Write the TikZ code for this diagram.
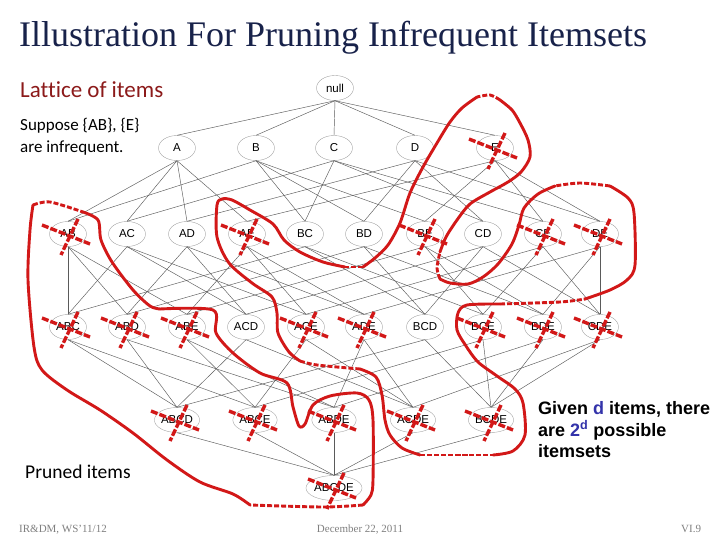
\documentclass[tikz,border=0pt]{standalone}
\usepackage{fontspec}
\setmainfont{Liberation Serif}
\newfontfamily\carl[Ligatures=NoCommon]{Carlito}
\newfontfamily\arialf{Liberation Sans}
\usetikzlibrary{shapes.geometric}
\definecolor{navy}{RGB}{24,34,74}
\definecolor{dred}{RGB}{140,26,26}
\definecolor{pred}{RGB}{210,24,24}
\definecolor{dblue}{RGB}{51,51,170}
\definecolor{edgeg}{RGB}{90,90,90}
\definecolor{foot}{RGB}{128,128,128}
\begin{document}
\begin{tikzpicture}[x=1pt,y=-1pt,
 lat/.style={ellipse, draw=gray!70, line width=0.4pt, minimum width=37pt, minimum height=25pt, inner sep=0pt, font=\arialf\fontsize{11.5}{11.5}\selectfont},
 edg/.style={draw=edgeg, line width=0.45pt},
 crossl/.style={draw=pred, line width=3.4pt, dash pattern=on 7pt off 2pt},
 outl/.style={draw=pred, line width=2.9pt, line cap=round, line join=round},
 outd/.style={draw=pred, line width=2.9pt, dash pattern=on 5pt off 2pt},
 txt/.style={anchor=base west, inner sep=0pt},
]
\useasboundingbox (0,0) rectangle (720,540);
\fill[white] (0,0) rectangle (720,540);

% lattice nodes
\foreach \n/\x/\y in {null/335/88,
  A/177/148, B/256/148, C/334/148, D/415/148, E/495/148,
  AB/68/234, AC/127/234, AD/187/234, AE/247/234, BC/305/234, BD/364/234, BE/425/234, CD/483/234, CE/543/234, DE/600/234,
  ABC/68/327, ABD/127/327, ABE/187/327, ACD/246/327, ACE/306/327, ADE/364/327, BCD/425/327, BCE/483/327, BDE/543/327, CDE/600/327,
  ABCD/177/420, ABCE/255/420, ABDE/334/420, ACDE/413/420, BCDE/491/420,
  ABCDE/334/488}
  \node[lat] (\n) at (\x,\y) {\n};

% lattice edges
\foreach \p/\cs in {null/{A,B,C,D,E},
  A/{AB,AC,AD,AE}, B/{AB,BC,BD,BE}, C/{AC,BC,CD,CE}, D/{AD,BD,CD,DE}, E/{AE,BE,CE,DE},
  AB/{ABC,ABD,ABE}, AC/{ABC,ACD,ACE}, AD/{ABD,ACD,ADE}, AE/{ABE,ACE,ADE}, BC/{ABC,BCD,BCE},
  BD/{ABD,BCD,BDE}, BE/{ABE,BCE,BDE}, CD/{ACD,BCD,CDE}, CE/{ACE,BCE,CDE}, DE/{ADE,BDE,CDE},
  ABC/{ABCD,ABCE}, ABD/{ABCD,ABDE}, ABE/{ABCE,ABDE}, ACD/{ABCD,ACDE}, ACE/{ABCE,ACDE},
  ADE/{ABDE,ACDE}, BCD/{ABCD,BCDE}, BCE/{ABCE,BCDE}, BDE/{ABDE,BCDE}, CDE/{ACDE,BCDE},
  ABCD/{ABCDE}, ABCE/{ABCDE}, ABDE/{ABCDE}, ACDE/{ABCDE}, BCDE/{ABCDE}}
  \foreach \c in \cs
    \draw[edg] (\p.south) -- (\c.north);

% outline 1 (left)
\draw[outd] plot[smooth] coordinates {(33,205) (50,202) (83,212)};
\draw[outl] plot[smooth] coordinates {(83,212) (98,220) (101,240) (112,262) (133,290) (150,306) (160,309)};
\draw[outl] plot[smooth] coordinates {(160,309) (213,310) (216,333) (233,353) (260,373) (287,383) (293,407) (299,426) (305,424) (313,405) (330,396) (357,393) (369,400) (373,420) (373,480) (371,495) (363,505)};
\draw[outd] plot[smooth] coordinates {(363,505) (323,507) (250,505)};
\draw[outl] plot[smooth] coordinates {(250,505) (233,494) (200,482) (167,460) (133,433) (100,410) (67,390) (42,370) (34,347) (28,280) (30,230) (33,205)};

% outline 2 (right)
\draw[outd] plot[smooth] coordinates {(420,455) (493,455)};
\draw[outl] plot[smooth] coordinates {(493,455) (513,451) (525,435) (523,403) (515,389) (497,376) (478,362) (466,346) (457,330) (458,313) (467,305) (500,304)};
\draw[outd] plot[smooth] coordinates {(500,304) (560,302) (585,299)};
\draw[outl] plot[smooth] coordinates {(585,299) (610,290) (627,280) (635,265) (634,213) (628,198) (610,186)};
\draw[outd] plot[smooth] coordinates {(610,186) (580,183) (555,186)};
\draw[outl] plot[smooth] coordinates {(555,186) (538,194) (524,208) (519,225) (512,244) (498,264) (483,277) (468,284) (450,283) (440,279)};
\draw[outd] plot[smooth] coordinates {(440,279) (437,268) (440,252)};
\draw[outl] plot[smooth] coordinates {(440,252) (446,237) (457,220) (470,204) (490,192) (508,182) (521,172) (530,157) (528,140) (520,123) (512,110) (500,100)};
\draw[outd] plot[smooth] coordinates {(500,100) (490,95) (477,97)};
\draw[outl] plot[smooth] coordinates {(477,97) (462,108) (450,122) (437,143) (423,167) (410,193) (400,223) (388,245) (375,258) (363,267)};
\draw[outd] plot[smooth] coordinates {(363,267) (345,267)};
\draw[outl] plot[smooth] coordinates {(345,267) (323,262) (300,252) (284,240) (273,224) (250,210) (232,200) (222,199) (217,205) (217,237) (229,263) (252,283) (272,297) (277,313) (278,333) (289,352) (300,361)};
\draw[outd] plot[smooth] coordinates {(300,361) (317,365) (360,369)};
\draw[outl] plot[smooth] coordinates {(360,369) (376,377) (382,395) (385,420) (390,435) (402,448) (420,455)};

% crosses on pruned itemsets
\foreach \n in {E,AB,AE,BE,CE,DE,ABC,ABD,ABE,ACE,ADE,BCE,BDE,CDE,ABCD,ABCE,ABDE,ACDE,BCDE,ABCDE} {
  \draw[crossl] (\n.center) ++(-26,-9) -- ++(48,19);
  \draw[crossl] (\n.center) ++(10,-15) -- ++(-17,36);
}

% texts
\node[txt, font=\fontsize{36}{36}\selectfont, text=navy] (title) at (19,47) {Illustration For Pruning Infrequent Itemsets};
\node[txt, font=\carl\fontsize{23}{23}\selectfont, text=dred] (lattice) at (20,98) {Lattice of items};
\node[txt, font=\carl\fontsize{17}{17}\selectfont] (sup1) at (20,131) {Suppose \{AB\}, \{E\}};
\node[txt, font=\carl\fontsize{17}{17}\selectfont] (sup2) at (20,153) {are infrequent.};
\node[txt, font=\carl\fontsize{19.5}{19.5}\selectfont] (pruned) at (25,478) {Pruned items};
\node[txt, font=\arialf\bfseries\fontsize{18}{18}\selectfont] (g1) at (538,414) {Given \textcolor{dblue}{d} items, there};
\node[txt, font=\arialf\bfseries\fontsize{18}{18}\selectfont] (g2) at (538,436) {are \textcolor{dblue}{2\textsuperscript{d}} possible};
\node[txt, font=\arialf\bfseries\fontsize{18}{18}\selectfont] (g3) at (538,457) {itemsets};
\node[txt, font=\fontsize{11}{11}\selectfont, text=foot] (f1) at (19,532) {IR\&DM, WS'11/12};
\node[anchor=base, inner sep=0pt, font=\fontsize{11}{11}\selectfont, text=foot] (f2) at (360,532) {December 22, 2011};
\node[txt, font=\fontsize{11}{11}\selectfont, text=foot] (f3) at (681,532) {VI.9};
\end{tikzpicture}
\end{document}
